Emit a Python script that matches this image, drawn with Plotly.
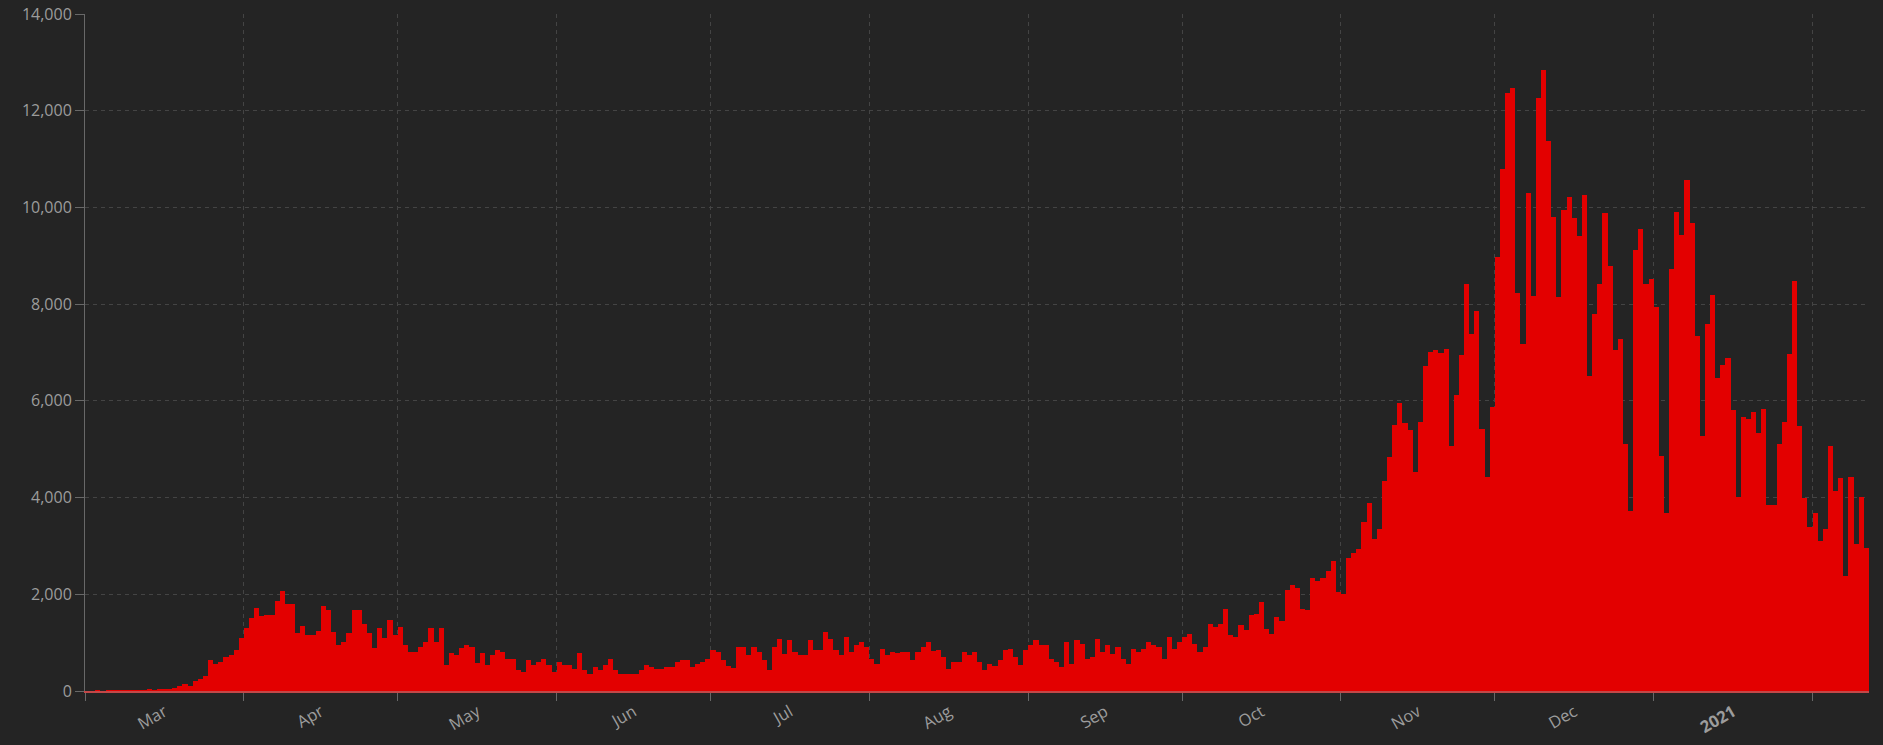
import plotly.graph_objects as go
import pandas as pd

# ---- data (daily values) ----
start_date = "2020-03-01"

cases_mar_apr = [
    0, 0, 2, 0, 3, 2, 1, 4, 5, 3, 8, 10, 30, 20, 40, 40, 40, 70, 100, 140,
    100, 215, 250, 320, 635, 565, 607, 705, 740, 840, 1090,
    1300, 1505, 1725, 1550, 1580, 1580, 1865, 2070, 1795, 1795, 1195, 1340, 1160, 1160,
    1235, 1760, 1685, 1230, 950, 1020, 1195, 1685, 1665, 1380, 1195, 885, 1300, 1090,
    1475, 1160,
]
cases_may_jun = [
    1330, 950, 815, 815, 920, 1020, 1300, 1020, 1300, 540, 780, 745, 885, 950, 920,
    575, 780, 540, 745, 850, 815, 670, 670, 430, 400, 635, 530, 600, 670, 530, 400,
    600, 530, 530, 460, 780, 430, 360, 500, 430, 530, 670, 430, 360, 360, 360, 360,
    430, 530, 500, 460, 460, 500, 500, 600, 635, 635, 500, 565, 600, 670,
]
cases_jul_aug = [
    850, 815, 635, 518, 483, 911, 911, 738, 911, 807, 635, 428, 911, 1083, 773, 1049,
    807, 738, 738, 1049, 842, 856, 1221, 1083, 842, 738, 1118, 807, 945, 1014, 911,
    669, 566, 876, 738, 807, 787, 807, 807, 635, 807, 911, 1014, 828, 842, 704, 462,
    600, 600, 807, 738, 807, 600, 428, 552, 511, 635, 842, 876, 704, 531, 842,
]
cases_sep_oct = [
    945, 1049, 945, 945, 669, 600, 497, 1014, 566, 1049, 980, 669, 704, 1083, 807, 945,
    773, 911, 669, 566, 876, 807, 876, 1014, 945, 911, 669, 1118, 876, 1014,
    1118, 1187, 980, 807, 911, 1394, 1325, 1394, 1704, 1152, 1118, 1359, 1256, 1566,
    1601, 1842, 1290, 1187, 1532, 1440, 2084, 2187, 2139, 1704, 1670, 2346, 2277, 2346,
    2484, 2691, 2049,
]
cases_nov_dec = [
    2001, 2760, 2864, 2933, 3498, 3885, 3153, 3360, 4347, 4830, 5506, 5948, 5534, 5396,
    4533, 5568, 6728, 7004, 7052, 6983, 7073, 5060, 6115, 6950, 8425, 7375, 7865, 5410,
    4430, 5865,
    8985, 10797, 12372, 12461, 8231, 7186, 10293, 8160, 12266, 12850, 11381, 9806, 8142,
    9956, 10222, 9779, 9408, 10257, 6522, 7806, 8408, 9885, 8788, 7053, 7275, 5115, 3717,
    9116, 9549, 8408, 8514,
]
cases_jan_feb = [
    7947, 4868, 3673, 8717, 9903, 9425, 10576, 9673, 7346, 5283, 7593, 8186, 6478, 6744,
    6885, 5814, 4018, 5664, 5620, 5770, 5328, 5832, 3841, 3841, 5106, 5558, 6965, 8469,
    5487, 3983, 3390,
    3690, 3106, 3345, 5062, 4133, 4407, 2372, 4434, 3044, 4018, 2965,
]

daily_cases = (cases_mar_apr + cases_may_jun + cases_jul_aug +
               cases_sep_oct + cases_nov_dec + cases_jan_feb)

month_labels = ["Mar", "Apr", "May", "Jun", "Jul", "Aug", "Sep", "Oct", "Nov", "Dec", "<b>2021</b>"]
y_ticks = [0, 2000, 4000, 6000, 8000, 10000, 12000, 14000]

# ---- derived positions ----
dates = pd.date_range(start_date, periods=len(daily_cases), freq="D")
range_start = dates[0]
range_end = dates[-1] + pd.Timedelta(days=1)
month_starts = pd.date_range(start_date, range_end, freq="MS")
month_mids = [month_starts[i] + (month_starts[i + 1] - month_starts[i]) / 2
              for i in range(len(month_labels))]

BG = "#242424"
TXT = "#9c9c9c"
GRID = "#444444"
AXIS = "#686868"
FONT = "Open Sans, Noto Sans, sans-serif"

fig = go.Figure()
fig.add_trace(go.Bar(
    x=dates, y=daily_cases,
    xperiod=86400000, xperiodalignment="middle",
    marker=dict(color="#e30000", line=dict(width=0)),
    hoverinfo="x+y", showlegend=False,
))
# invisible helper trace so the label axis is drawn
fig.add_trace(go.Scatter(
    x=[dates[0]], y=[0], xaxis="x2", mode="markers",
    marker=dict(opacity=0), hoverinfo="skip", showlegend=False,
))

fig.update_layout(
    width=1883, height=745, autosize=False,
    margin=dict(l=85, r=14, t=14, b=54, pad=0, autoexpand=False),
    paper_bgcolor=BG, plot_bgcolor=BG,
    bargap=0,
    font=dict(family=FONT, color=TXT, size=16),
    xaxis=dict(
        type="date", range=[range_start, range_end], automargin=False,
        tickmode="array", tickvals=list(month_starts), showticklabels=False,
        ticks="outside", ticklen=8, tickcolor=AXIS, tickwidth=1,
        showgrid=True, gridcolor=GRID, griddash="4px,4px", gridwidth=1,
        showline=True, linecolor="#c24848", linewidth=1.5,
        zeroline=False,
    ),
    xaxis2=dict(
        type="date", range=[range_start, range_end], overlaying="x", side="bottom",
        automargin=False,
        tickmode="array", tickvals=month_mids, ticktext=month_labels,
        tickangle=-30, ticks="outside", ticklen=4, tickcolor="rgba(0,0,0,0)",
        tickfont=dict(size=16.5, color=TXT, family=FONT),
        showgrid=False, showline=False, zeroline=False,
    ),
    yaxis=dict(
        range=[0, 14000], tickmode="array", tickvals=y_ticks, tickformat=",",
        automargin=False,
        ticks="outside", ticklen=9, tickcolor=AXIS, tickwidth=1,
        showline=True, linecolor=AXIS, linewidth=1,
        showgrid=True, gridcolor=GRID, griddash="4px,4px", gridwidth=1,
        zeroline=False, tickfont=dict(size=16, color=TXT, family=FONT),
    ),
)

fig.write_html(
    "out.html",
    config={"displayModeBar": False},
    post_script="document.body.style.margin='0';document.body.style.background='#242424';",
)
